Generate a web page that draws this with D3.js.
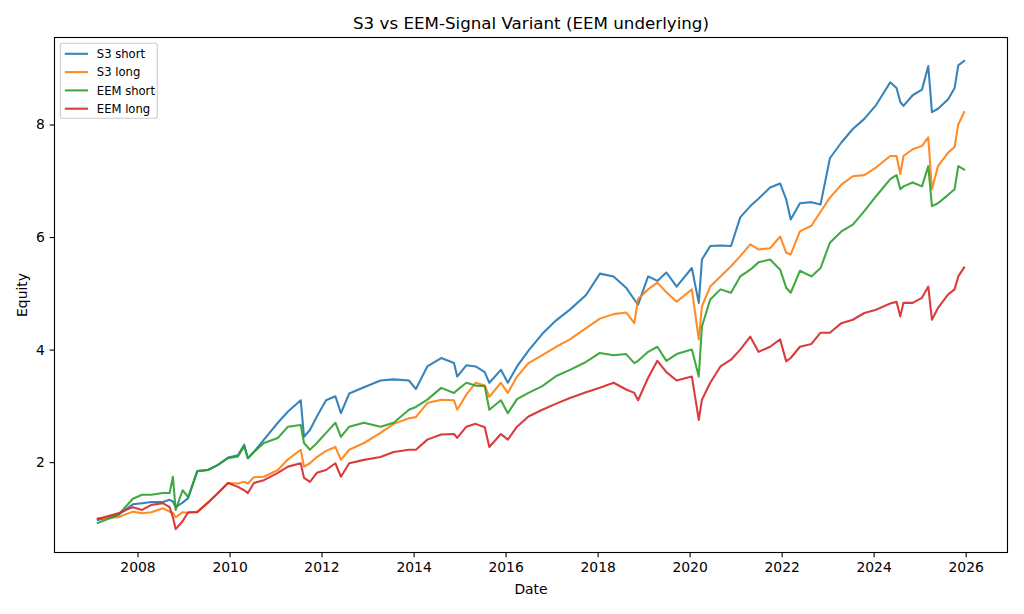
<!DOCTYPE html>
<html>
<head>
<meta charset="utf-8">
<script src="https://cdn.jsdelivr.net/npm/d3@7"></script>
<style>
  body { margin: 0; background: #fff; }
  svg { font-family: "DejaVu Sans", sans-serif; }
</style>
</head>
<body>
<div id="chart"></div>
<script>
// sample dates (shared by all four curves)
var dates = [
  "2007-02-20","2007-08-01","2007-11-25","2008-02-06","2008-04-20","2008-07-20","2008-09-12","2008-10-08",
  "2008-10-30","2008-12-24","2009-02-06","2009-04-20","2009-07-13","2009-10-01","2009-12-20","2010-03-08",
  "2010-04-27","2010-05-26","2010-07-13","2010-10-01","2011-01-19","2011-04-10","2011-07-20","2011-08-15",
  "2011-10-01","2011-11-25","2012-02-06","2012-04-20","2012-06-03","2012-08-08","2012-12-03","2013-04-13",
  "2013-07-27","2013-11-25","2014-01-19","2014-04-20","2014-08-08","2014-11-18","2014-12-13","2015-02-24",
  "2015-05-08","2015-07-20","2015-08-25","2015-11-25","2016-01-19","2016-04-01","2016-07-01","2016-10-19",
  "2017-02-06","2017-05-26","2017-10-01","2018-01-19","2018-05-08","2018-08-15","2018-10-19","2018-11-18",
  "2019-02-06","2019-04-20","2019-07-01","2019-09-20","2020-01-19","2020-03-14","2020-04-08","2020-06-13",
  "2020-09-02","2020-11-25","2021-02-06","2021-04-27","2021-07-01","2021-10-01","2021-12-20","2022-02-06",
  "2022-03-14","2022-05-26","2022-08-25","2022-11-06","2023-01-19","2023-04-20","2023-07-20","2023-10-19",
  "2024-01-22","2024-05-12","2024-07-01","2024-07-31","2024-08-25","2024-11-06","2025-01-19","2025-03-10",
  "2025-04-08","2025-05-26","2025-08-15","2025-10-05","2025-11-03","2025-12-20"
];

var s3Short = [
  0.97,1.06,1.25,1.27,1.29,1.29,1.33,1.30, 1.20,1.28,1.36,1.84,1.86,1.95,2.08,2.12,
  2.31,2.07,2.18,2.40,2.70,2.90,3.10,2.45, 2.57,2.81,3.10,3.17,2.87,3.22,3.33,3.45,
  3.47,3.45,3.30,3.70,3.85,3.76,3.52,3.72, 3.70,3.60,3.41,3.64,3.41,3.70,3.98,4.28,
  4.52,4.71,4.97,5.35,5.30,5.10,4.89,4.80, 5.30,5.22,5.37,5.12,5.45,4.83,5.60,5.84,
  5.85,5.84,6.35,6.55,6.68,6.88,6.95,6.67, 6.31,6.60,6.62,6.58,7.40,7.68,7.92,8.10,
  8.35,8.75,8.65,8.40,8.33,8.52,8.62,9.04, 8.22,8.28,8.45,8.65,9.05,9.13
];

var s3Long = [
  1.00,1.02,1.12,1.09,1.11,1.18,1.12,1.10, 1.02,1.11,1.10,1.12,1.28,1.45,1.63,1.62,
  1.65,1.62,1.73,1.74,1.86,2.05,2.22,1.92, 1.98,2.09,2.20,2.27,2.04,2.22,2.34,2.52,
  2.68,2.78,2.80,3.05,3.11,3.10,2.93,3.20, 3.41,3.36,3.16,3.41,3.23,3.52,3.76,3.90,
  4.05,4.18,4.38,4.55,4.63,4.66,4.47,4.90, 5.07,5.19,5.02,4.85,5.07,4.18,4.77,5.12,
  5.30,5.48,5.66,5.87,5.78,5.80,6.01,5.72, 5.69,6.10,6.20,6.45,6.70,6.93,7.08,7.10,
  7.24,7.44,7.44,7.12,7.44,7.56,7.62,7.77, 6.85,7.26,7.50,7.60,8.00,8.22
];

var eemShort = [
  0.92,1.06,1.35,1.42,1.42,1.45,1.45,1.74, 1.15,1.50,1.38,1.84,1.86,1.95,2.07,2.10,
  2.28,2.07,2.18,2.34,2.43,2.63,2.66,2.34, 2.22,2.34,2.52,2.70,2.45,2.63,2.70,2.63,
  2.70,2.93,2.98,3.11,3.32,3.23,3.28,3.41, 3.36,3.35,2.93,3.10,2.87,3.12,3.23,3.35,
  3.53,3.64,3.78,3.94,3.90,3.92,3.76,3.80, 3.96,4.05,3.80,3.92,4.00,3.52,4.41,4.89,
  5.07,5.01,5.30,5.42,5.55,5.60,5.42,5.10, 5.01,5.40,5.30,5.45,5.90,6.10,6.22,6.46,
  6.73,7.03,7.10,6.85,6.90,6.97,6.90,7.26, 6.55,6.60,6.75,6.85,7.26,7.20
];

var eemLong = [
  0.99,1.09,1.20,1.15,1.24,1.27,1.20,1.02, 0.81,0.95,1.11,1.11,1.28,1.45,1.63,1.56,
  1.50,1.45,1.63,1.68,1.81,1.92,1.98,1.72, 1.65,1.81,1.86,1.98,1.74,1.98,2.04,2.09,
  2.18,2.22,2.22,2.40,2.49,2.50,2.43,2.63, 2.68,2.62,2.27,2.50,2.40,2.63,2.81,2.93,
  3.04,3.14,3.24,3.32,3.41,3.29,3.23,3.10, 3.50,3.80,3.60,3.45,3.52,2.75,3.11,3.41,
  3.70,3.82,4.00,4.23,3.96,4.05,4.18,3.79, 3.85,4.05,4.10,4.30,4.30,4.47,4.53,4.65,
  4.71,4.82,4.85,4.59,4.83,4.83,4.92,5.12, 4.53,4.74,4.98,5.07,5.30,5.46
];

var seriesNames = ["S3 short", "S3 long", "EEM short", "EEM long"];
var seriesColors = ["#1f77b4", "#ff7f0e", "#2ca02c", "#d62728"];
var xTickYears = [2008, 2010, 2012, 2014, 2016, 2018, 2020, 2022, 2024, 2026];
var yTicks = [2, 4, 6, 8];

var width = 1024, height = 614;
var margin = {top: 37.5, right: 16.5, bottom: 61.5, left: 54.5};
var innerW = width - margin.left - margin.right;
var innerH = height - margin.top - margin.bottom;

var parseDate = d3.timeParse("%Y-%m-%d");
var t = dates.map(parseDate);
var allSeries = [s3Short, s3Long, eemShort, eemLong];

// matplotlib-like 5% margins around the data
var t0 = t[0].getTime(), t1 = t[t.length - 1].getTime();
var tPad = (t1 - t0) * 0.05;
var vMin = d3.min(allSeries, s => d3.min(s));
var vMax = d3.max(allSeries, s => d3.max(s));
var vPad = (vMax - vMin) * 0.05;

var x = d3.scaleTime()
  .domain([new Date(t0 - tPad), new Date(t1 + tPad)])
  .range([margin.left, margin.left + innerW]);
var y = d3.scaleLinear()
  .domain([vMin - vPad, vMax + vPad])
  .range([margin.top + innerH, margin.top]);

var svg = d3.select("#chart").append("svg")
  .attr("width", width)
  .attr("height", height);

svg.append("rect")
  .attr("width", width).attr("height", height)
  .attr("fill", "#fff");

var line = d3.line()
  .x((d, i) => x(t[i]))
  .y(d => y(d));

var clip = svg.append("clipPath").attr("id", "plotclip")
  .append("rect")
  .attr("x", margin.left).attr("y", margin.top)
  .attr("width", innerW).attr("height", innerH);

allSeries.forEach(function(s, k){
  svg.append("path")
    .datum(s)
    .attr("clip-path", "url(#plotclip)")
    .attr("fill", "none")
    .attr("stroke", seriesColors[k])
    .attr("stroke-opacity", 0.9)
    .attr("stroke-width", 2.08)
    .attr("stroke-linejoin", "round")
    .attr("stroke-linecap", "square")
    .attr("d", line);
});

// axes
var xAxis = g => g
  .attr("transform", `translate(0,${margin.top + innerH})`)
  .call(d3.axisBottom(x)
    .tickValues(xTickYears.map(yr => new Date(yr, 0, 1)))
    .tickFormat(d3.timeFormat("%Y"))
    .tickSize(4.86).tickPadding(4.86).tickSizeOuter(0))
  .call(g => g.select(".domain").remove());

var yAxis = g => g
  .attr("transform", `translate(${margin.left},0)`)
  .call(d3.axisLeft(y)
    .tickValues(yTicks)
    .tickSize(4.86).tickPadding(4.86).tickSizeOuter(0))
  .call(g => g.select(".domain").remove());

svg.append("g").call(xAxis);
svg.append("g").call(yAxis);

svg.selectAll(".tick line").attr("stroke", "#000").attr("stroke-width", 1.11);
svg.selectAll(".tick text")
  .attr("fill", "#000")
  .style("font-size", "13.9px")
  .style("font-family", "DejaVu Sans, sans-serif");

// frame
svg.append("rect")
  .attr("x", margin.left).attr("y", margin.top)
  .attr("width", innerW).attr("height", innerH)
  .attr("fill", "none")
  .attr("stroke", "#000")
  .attr("stroke-width", 1.11);

// title and labels
svg.append("text")
  .attr("x", margin.left + innerW / 2)
  .attr("y", margin.top - 8.3)
  .attr("text-anchor", "middle")
  .style("font-size", "16.7px")
  .text("S3 vs EEM-Signal Variant (EEM underlying)");

svg.append("text")
  .attr("x", margin.left + innerW / 2)
  .attr("y", 594)
  .attr("text-anchor", "middle")
  .style("font-size", "13.9px")
  .text("Date");

svg.append("text")
  .attr("transform", `translate(27,${margin.top + innerH / 2}) rotate(-90)`)
  .attr("text-anchor", "middle")
  .style("font-size", "13.9px")
  .text("Equity");

// legend
var legend = svg.append("g").attr("transform", `translate(${margin.left + 5.8},${margin.top + 5.8})`);
legend.append("rect")
  .attr("width", 97).attr("height", 75)
  .attr("rx", 2.3).attr("ry", 2.3)
  .attr("fill", "#fff").attr("fill-opacity", 0.8)
  .attr("stroke", "#cccccc").attr("stroke-width", 1.11);

seriesNames.forEach(function(name, k){
  var yy = 10.5 + k * 18.3;
  legend.append("line")
    .attr("x1", 4.5).attr("x2", 27.7)
    .attr("y1", yy).attr("y2", yy)
    .attr("stroke", seriesColors[k])
    .attr("stroke-opacity", 0.9)
    .attr("stroke-width", 2.08);
  legend.append("text")
    .attr("x", 36.5).attr("y", yy)
    .attr("dy", "0.36em")
    .style("font-size", "11.6px")
    .text(name);
});
</script>
</body>
</html>
